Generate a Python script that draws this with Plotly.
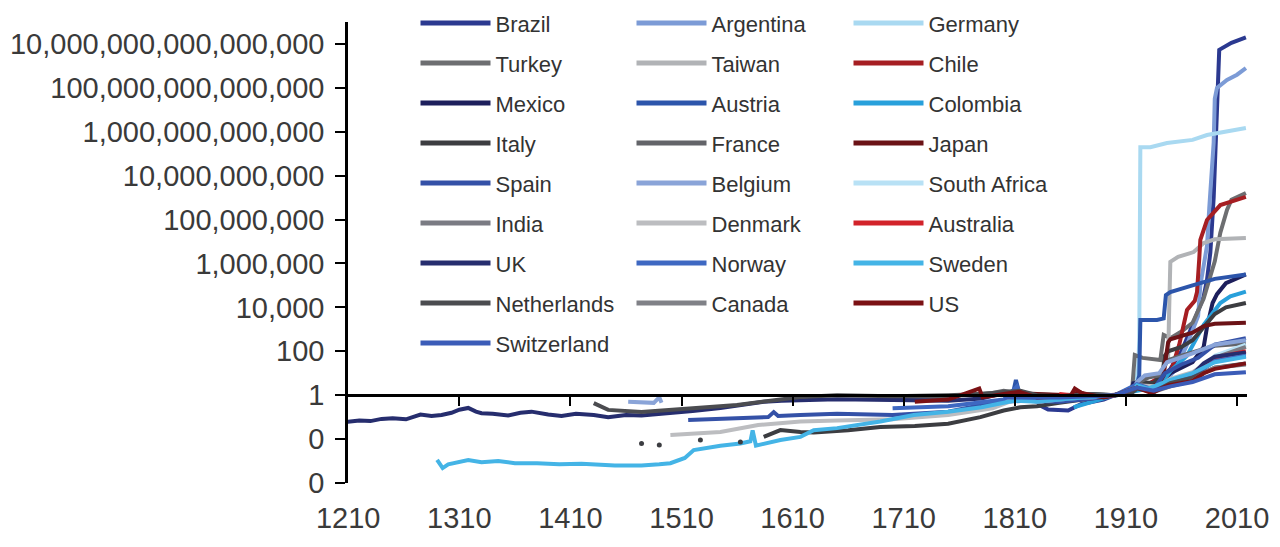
import plotly.graph_objects as go

# axis ticks
x_tickvals = [1210, 1310, 1410, 1510, 1610, 1710, 1810, 1910, 2010]
y_tickvals = [1e-4, 1e-2, 1, 1e2, 1e4, 1e6, 1e8, 1e10, 1e12, 1e14, 1e16]
y_ticktext = ["0", "0", "1", "100", "10,000", "1,000,000", "100,000,000",
              "10,000,000,000", "1,000,000,000,000", "100,000,000,000,000",
              "10,000,000,000,000,000"]

# price levels, log10 of index (1900 = 1)
brazil_years = [1830, 1840, 1858, 1870, 1890, 1900, 1920, 1940, 1950, 1960, 1970, 1980, 1983, 1986, 1989, 1991, 1993, 1994, 2005, 2018]
brazil_log = [-0.4, -0.65, -0.7, -0.4, -0.2, 0.0, 0.3, 0.7, 1.2, 2.0, 3.2, 4.5, 5.25, 6.5, 9.0, 12.0, 14.5, 15.73, 16.05, 16.3]

argentina_years = [1900, 1920, 1945, 1955, 1965, 1975, 1977, 1983, 1985, 1989, 1990, 1992, 2001, 2010, 2018]
argentina_log = [0.0, 0.3, 0.6, 1.2, 2.3, 3.6, 5.0, 6.8, 8.5, 11.5, 13.5, 14.0, 14.36, 14.6, 14.9]

germany_years = [1800, 1820, 1850, 1873, 1900, 1914, 1918, 1920, 1921, 1922, 1923, 1932, 1947, 1970, 1983, 2018]
germany_log = [-0.1, -0.2, -0.15, 0.05, 0.0, 0.05, 0.35, 1.0, 1.2, 2.5, 11.3, 11.3, 11.49, 11.63, 11.85, 12.17]

turkey_years = [1870, 1900, 1914, 1916, 1918, 1925, 1941, 1944, 1950, 1960, 1970, 1980, 1985, 1990, 1995, 2001, 2005, 2018]
turkey_log = [-0.1, 0.0, 0.05, 0.5, 1.83, 1.7, 1.6, 2.74, 2.6, 2.9, 3.3, 4.4, 5.2, 6.1, 7.4, 8.44, 8.9, 9.21]

taiwan_years = [1900, 1920, 1937, 1943, 1946, 1948, 1949, 1950, 1957, 1971, 1980, 1990, 2018]
taiwan_log = [0.0, 0.3, 0.5, 1.0, 1.6, 1.7, 4.0, 6.07, 6.3, 6.52, 6.93, 7.1, 7.16]

chile_years = [1900, 1914, 1920, 1930, 1940, 1950, 1958, 1965, 1972, 1974, 1976, 1977, 1983, 1995, 2018]
chile_log = [0.0, 0.15, 0.35, 0.5, 0.8, 1.0, 2.3, 3.88, 4.3, 4.7, 6.2, 7.07, 7.98, 8.66, 9.03]

mexico_years = [1880, 1900, 1914, 1917, 1920, 1940, 1950, 1970, 1980, 1983, 1988, 1992, 2000, 2018]
mexico_log = [-0.1, 0.0, 0.1, 0.6, 0.3, 0.5, 1.0, 1.5, 2.2, 3.1, 4.2, 4.6, 5.1, 5.5]

austria_years = [1800, 1808, 1811, 1815, 1830, 1860, 1900, 1914, 1918, 1920, 1922, 1923, 1938, 1944, 1946, 1950, 1970, 1990, 2018]
austria_log = [-0.3, 0.0, 0.69, -0.1, -0.3, -0.2, 0.0, 0.1, 0.4, 0.5, 0.9, 3.43, 3.43, 3.5, 4.56, 4.7, 5.0, 5.3, 5.5]

colombia_years = [1863, 1880, 1900, 1920, 1940, 1950, 1965, 1980, 1995, 2004, 2018]
colombia_log = [-0.55, -0.3, 0.0, 0.2, 0.4, 1.1, 1.8, 3.2, 4.2, 4.5, 4.72]

italy_years = [1584, 1599, 1617, 1629, 1660, 1689, 1720, 1750, 1779, 1800, 1815, 1830, 1850, 1870, 1900, 1914, 1920, 1935, 1943, 1945, 1948, 1960, 1970, 1980, 1990, 2000, 2018]
italy_log = [-1.9, -1.59, -1.68, -1.7, -1.6, -1.45, -1.4, -1.3, -1.0, -0.7, -0.55, -0.5, -0.35, -0.2, 0.0, 0.05, 0.6, 0.55, 1.0, 1.8, 2.0, 2.2, 2.5, 3.1, 3.7, 4.0, 4.2]
italy_dot_years = [1474, 1490, 1527, 1563]
italy_dot_log = [-2.2, -2.27, -2.04, -2.13]

france_years = [1700, 1720, 1750, 1790, 1800, 1820, 1850, 1880, 1900, 1914, 1920, 1930, 1940, 1948, 1960, 1970, 1990, 2018]
france_log = [-0.1, -0.15, -0.05, 0.1, 0.2, 0.05, 0.0, 0.05, 0.0, 0.05, 0.55, 0.8, 0.9, 1.6, 1.8, 1.95, 2.25, 2.35]

japan_years = [1790, 1810, 1830, 1860, 1868, 1880, 1900, 1914, 1920, 1930, 1940, 1944, 1946, 1948, 1950, 1970, 1980, 1990, 2018]
japan_log = [0.0, 0.1, 0.05, 0.0, 0.15, -0.1, 0.0, 0.1, 0.45, 0.3, 0.55, 0.9, 1.7, 2.4, 2.55, 2.85, 3.15, 3.25, 3.3]

spain_years = [1516, 1540, 1560, 1588, 1593, 1597, 1617, 1650, 1700, 1750, 1780, 1800, 1820, 1850, 1880, 1900, 1920, 1936, 1945, 1960, 1975, 1990, 2018]
spain_log = [-1.13, -1.1, -1.05, -1.0, -0.77, -0.95, -0.9, -0.85, -0.9, -0.75, -0.45, -0.3, -0.25, -0.3, -0.15, 0.0, 0.3, 0.35, 1.0, 1.4, 1.7, 2.3, 2.6]

belgium_years = [1462, 1474, 1485, 1490, 1492, None, 1800, 1820, 1850, 1880, 1900, 1914, 1920, 1927, 1940, 1947, 1970, 1990, 2018]
belgium_log = [-0.3, -0.33, -0.35, -0.1, -0.35, None, -0.2, -0.15, -0.15, -0.1, 0.0, 0.05, 0.6, 0.9, 1.0, 1.5, 1.9, 2.3, 2.5]

south_africa_years = [1890, 1900, 1920, 1940, 1950, 1970, 1990, 2018]
south_africa_log = [-0.05, 0.0, 0.3, 0.3, 0.5, 0.8, 1.8, 2.3]

india_years = [1870, 1900, 1920, 1935, 1945, 1950, 1970, 1990, 2018]
india_log = [-0.1, 0.0, 0.4, 0.1, 0.55, 0.65, 1.0, 1.7, 2.2]

denmark_years = [1500, 1530, 1545, 1579, 1600, 1617, 1650, 1700, 1750, 1790, 1805, 1813, 1816, 1830, 1860, 1900, 1920, 1940, 1950, 1970, 1990, 2018]
denmark_log = [-1.81, -1.75, -1.68, -1.36, -1.25, -1.2, -1.15, -1.1, -0.9, -0.6, -0.3, 0.3, -0.2, -0.3, -0.15, 0.0, 0.45, 0.4, 0.75, 1.05, 1.7, 1.9]

australia_years = [1850, 1870, 1900, 1920, 1940, 1950, 1970, 1990, 2018]
australia_log = [0.05, -0.05, 0.0, 0.35, 0.3, 0.55, 0.8, 1.7, 2.0]

uk_years = [1209, 1220, 1230, 1240, 1250, 1262, 1275, 1285, 1294, 1303, 1310, 1318, 1325, 1330, 1340, 1354, 1365, 1375, 1390, 1402, 1415, 1431, 1444, 1460, 1474, 1490, 1503, 1520, 1545, 1565, 1584, 1600, 1617, 1650, 1700, 1750, 1780, 1800, 1813, 1830, 1850, 1880, 1900, 1914, 1920, 1935, 1945, 1970, 1980, 1990, 2018]
uk_log = [-1.22, -1.15, -1.18, -1.08, -1.05, -1.1, -0.88, -0.95, -0.9, -0.8, -0.66, -0.58, -0.75, -0.82, -0.85, -0.92, -0.8, -0.75, -0.88, -0.95, -0.85, -0.9, -1.0, -0.9, -0.92, -0.85, -0.82, -0.72, -0.58, -0.45, -0.3, -0.25, -0.22, -0.18, -0.22, -0.25, -0.15, 0.1, 0.2, -0.05, -0.12, -0.05, 0.0, 0.05, 0.45, 0.2, 0.5, 0.95, 1.45, 1.75, 1.95]

norway_years = [1700, 1750, 1800, 1812, 1816, 1850, 1900, 1920, 1935, 1950, 1970, 1990, 2018]
norway_log = [-0.6, -0.5, -0.2, 0.4, -0.15, -0.2, 0.0, 0.5, 0.25, 0.55, 0.85, 1.55, 1.8]

sweden_years = [1290, 1295, 1300, 1310, 1318, 1330, 1345, 1360, 1380, 1400, 1420, 1450, 1474, 1490, 1500, 1513, 1521, 1545, 1563, 1572, 1574, 1577, 1599, 1617, 1629, 1650, 1689, 1719, 1750, 1780, 1809, 1830, 1860, 1900, 1914, 1920, 1930, 1950, 1970, 1990, 2018]
sweden_log = [-2.95, -3.32, -3.15, -3.05, -2.95, -3.05, -3.0, -3.1, -3.1, -3.15, -3.12, -3.2, -3.2, -3.15, -3.1, -2.86, -2.5, -2.3, -2.2, -2.1, -1.6, -2.3, -2.04, -1.9, -1.6, -1.5, -1.2, -0.9, -0.75, -0.55, -0.25, -0.3, -0.15, 0.0, 0.05, 0.45, 0.3, 0.7, 1.0, 1.5, 1.75]

netherlands_years = [1431, 1444, 1474, 1503, 1530, 1560, 1590, 1617, 1650, 1700, 1750, 1780, 1800, 1815, 1830, 1850, 1880, 1900, 1914, 1920, 1935, 1950, 1970, 1990, 2018]
netherlands_log = [-0.36, -0.67, -0.77, -0.67, -0.58, -0.45, -0.25, -0.08, 0.0, -0.05, 0.0, 0.05, 0.15, 0.2, 0.0, -0.05, 0.05, 0.0, 0.05, 0.3, 0.15, 0.55, 0.8, 1.25, 1.45]

canada_years = [1870, 1900, 1920, 1935, 1950, 1970, 1980, 1990, 2018]
canada_log = [-0.05, 0.0, 0.35, 0.15, 0.4, 0.65, 1.0, 1.25, 1.4]

us_years = [1720, 1750, 1778, 1781, 1800, 1814, 1830, 1860, 1864, 1870, 1890, 1900, 1920, 1933, 1948, 1970, 1980, 1990, 2018]
us_log = [-0.3, -0.2, 0.3, -0.1, 0.05, 0.15, -0.1, -0.05, 0.3, 0.1, -0.1, 0.0, 0.35, 0.1, 0.45, 0.65, 1.0, 1.2, 1.45]

switzerland_years = [1800, 1850, 1900, 1920, 1935, 1950, 1970, 1990, 2018]
switzerland_log = [-0.1, -0.1, 0.0, 0.35, 0.2, 0.4, 0.6, 0.95, 1.05]

# name, years, log values, colour, legend column
series = [
    ("Brazil", brazil_years, brazil_log, "#2b3990", "legend"),
    ("Argentina", argentina_years, argentina_log, "#7c9bd6", "legend2"),
    ("Germany", germany_years, germany_log, "#a9d9f1", "legend3"),
    ("Turkey", turkey_years, turkey_log, "#6d6e71", "legend"),
    ("Taiwan", taiwan_years, taiwan_log, "#b1b3b6", "legend2"),
    ("Chile", chile_years, chile_log, "#a61e22", "legend3"),
    ("Mexico", mexico_years, mexico_log, "#1d1f5c", "legend"),
    ("Austria", austria_years, austria_log, "#2c55ab", "legend2"),
    ("Colombia", colombia_years, colombia_log, "#28a0db", "legend3"),
    ("Italy", italy_years, italy_log, "#3c3d41", "legend"),
    ("France", france_years, france_log, "#636469", "legend2"),
    ("Japan", japan_years, japan_log, "#6b1216", "legend3"),
    ("Spain", spain_years, spain_log, "#3451a7", "legend"),
    ("Belgium", belgium_years, belgium_log, "#8aa4d8", "legend2"),
    ("South Africa", south_africa_years, south_africa_log, "#b8e1f5", "legend3"),
    ("India", india_years, india_log, "#7a7b83", "legend"),
    ("Denmark", denmark_years, denmark_log, "#bcbdc0", "legend2"),
    ("Australia", australia_years, australia_log, "#d2232a", "legend3"),
    ("UK", uk_years, uk_log, "#262d6e", "legend"),
    ("Norway", norway_years, norway_log, "#3e68c2", "legend2"),
    ("Sweden", sweden_years, sweden_log, "#44b4e6", "legend3"),
    ("Netherlands", netherlands_years, netherlands_log, "#4b4c50", "legend"),
    ("Canada", canada_years, canada_log, "#808187", "legend2"),
    ("US", us_years, us_log, "#7b1114", "legend3"),
    ("Switzerland", switzerland_years, switzerland_log, "#3b5cb8", "legend"),
]


def to_level(logs):
    return [None if v is None else 10 ** v for v in logs]


fig = go.Figure()

for name, years, logs, color, leg in series:
    fig.add_trace(go.Scatter(
        x=years, y=to_level(logs), mode="lines", name=name,
        line=dict(color=color, width=4),
        legend=leg, legendgroup=name, hoverinfo="skip",
    ))

# early scattered observations for Italy
fig.add_trace(go.Scatter(
    x=italy_dot_years, y=to_level(italy_dot_log), mode="markers",
    marker=dict(color="#3c3d41", size=5), showlegend=False,
    legend="legend", legendgroup="Italy", hoverinfo="skip",
))

# empty trace so the label axis is drawn
fig.add_trace(go.Scatter(x=[], y=[], xaxis="x2", showlegend=False, hoverinfo="skip"))

# plot area: 22px .. 483px from the top, log range -4 .. 17
y_top = 461 / 483
x_range = [1209.8, 2019]

legend_style = dict(
    font=dict(family="Liberation Sans", size=22, color="#333333"),
    itemwidth=70, itemsizing="constant", tracegroupgap=8.4,
    bgcolor="rgba(0,0,0,0)", xanchor="left", yanchor="top", orientation="v",
)
legend_y = 1 - 2.2 / 483

axis_font = dict(family="Liberation Sans", size=29, color="#3a3a3a")

fig.update_layout(
    width=1280, height=547,
    margin=dict(l=348, r=33, t=0, b=64, autoexpand=False),
    plot_bgcolor="white", paper_bgcolor="white",
    font=axis_font,
    xaxis=dict(
        range=x_range, anchor="free", position=y_top * 4 / 21,
        showline=True, linecolor="black", linewidth=2.5,
        ticks="outside", ticklen=9, tickwidth=2, tickcolor="black",
        tickvals=x_tickvals[1:], showticklabels=False,
        showgrid=False, zeroline=False, automargin=False,
    ),
    xaxis2=dict(
        range=x_range, overlaying="x", anchor="y", side="bottom",
        tickvals=x_tickvals, ticktext=[str(v) for v in x_tickvals],
        showline=False, ticks="", showgrid=False, zeroline=False,
        tickfont=axis_font, ticklabelstandoff=15, automargin=False,
    ),
    yaxis=dict(
        type="log", range=[-4, 17], domain=[0, y_top],
        showline=True, linecolor="black", linewidth=2.5,
        ticks="outside", ticklen=10, tickwidth=2, tickcolor="black",
        tickvals=y_tickvals, ticktext=y_ticktext, tickfont=axis_font,
        ticklabelstandoff=5, showgrid=False, zeroline=False, automargin=False,
    ),
    legend=dict(x=(415.5 - 348) / 899, y=legend_y, **legend_style),
    legend2=dict(x=(631.5 - 348) / 899, y=legend_y, **legend_style),
    legend3=dict(x=(848.5 - 348) / 899, y=legend_y, **legend_style),
)

# drop the page's default body margin so the figure sits at the window corner
fig.write_html(
    "out.html",
    config={"displayModeBar": False},
    post_script="document.body.style.margin = '0';",
)
